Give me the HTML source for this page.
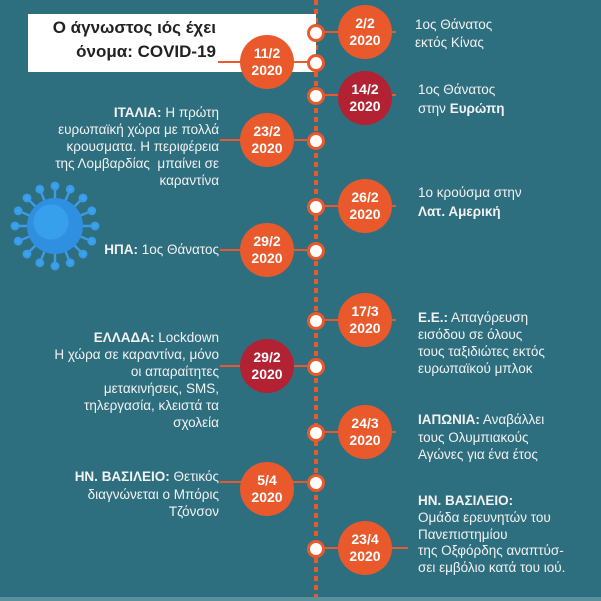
<!DOCTYPE html>
<html><head><meta charset="utf-8"><style>
body{margin:0;width:601px;height:601px;overflow:hidden;background:#2e6f7f;font-family:"Liberation Sans","DejaVu Sans",sans-serif;position:relative;color:#f2f2f2}
.a{position:absolute}
.t{position:absolute;font-size:13.5px;line-height:17px;white-space:nowrap}
.l{text-align:right}
.d{position:absolute;width:54px;height:54px;border-radius:50%;background:#e9592b;color:#fff;font-weight:bold;font-size:14px;line-height:17px;text-align:center;display:flex;align-items:center;justify-content:center}
.r{background:#b22232}
.dot{position:absolute;width:12px;height:12px;border-radius:50%;background:#fff;border:3px solid #e9592b;left:307px}
.ln{position:absolute;height:2px;background:#e9592b}
b{font-weight:bold}
</style></head><body>
<div class="a" style="left:314px;top:0;width:4px;height:597px;background:repeating-linear-gradient(#e9592b 0 5px,transparent 5px 9px)"></div>
<div class="a" style="left:0;top:597px;width:601px;height:4px;background:#5a8f9c"></div>
<div class="a" style="left:28px;top:14px;width:288px;height:58px;background:#fff"></div>
<div class="a" style="left:28px;top:16px;width:188px;text-align:right;color:#222;font-size:17px;font-weight:bold;line-height:24px">Ο άγνωστος ιός έχει<br>όνομα: COVID-19</div>
<svg class="a" style="left:7px;top:178px" width="96" height="96" viewBox="0 0 120 120">
<g stroke="#3a9be6" stroke-width="3" fill="#3aa3f0">
<line x1="60" y1="60" x2="60" y2="10"/><line x1="60" y1="60" x2="60" y2="110"/><line x1="60" y1="60" x2="10" y2="60"/><line x1="60" y1="60" x2="110" y2="60"/>
<line x1="60" y1="60" x2="25" y2="25"/><line x1="60" y1="60" x2="95" y2="95"/><line x1="60" y1="60" x2="95" y2="25"/><line x1="60" y1="60" x2="25" y2="95"/>
<line x1="60" y1="60" x2="41" y2="14"/><line x1="60" y1="60" x2="79" y2="106"/><line x1="60" y1="60" x2="79" y2="14"/><line x1="60" y1="60" x2="41" y2="106"/>
<line x1="60" y1="60" x2="14" y2="41"/><line x1="60" y1="60" x2="106" y2="79"/><line x1="60" y1="60" x2="14" y2="79"/><line x1="60" y1="60" x2="106" y2="41"/>
<circle cx="60" cy="10" r="4"/><circle cx="60" cy="110" r="4"/><circle cx="10" cy="60" r="4"/><circle cx="110" cy="60" r="4"/>
<circle cx="25" cy="25" r="4"/><circle cx="95" cy="95" r="4"/><circle cx="95" cy="25" r="4"/><circle cx="25" cy="95" r="4"/>
<circle cx="41" cy="14" r="4"/><circle cx="79" cy="106" r="4"/><circle cx="79" cy="14" r="4"/><circle cx="41" cy="106" r="4"/>
<circle cx="14" cy="41" r="4"/><circle cx="106" cy="79" r="4"/><circle cx="14" cy="79" r="4"/><circle cx="106" cy="41" r="4"/>
</g><circle cx="60" cy="60" r="35" fill="#2f8fe0"/><circle cx="55" cy="55" r="22" fill="#3aa6f2" opacity=".7"/></svg>

<div class="ln" style="left:316px;top:31px;width:80px"></div>
<div class="dot" style="top:24px"></div>
<div class="d" style="left:338px;top:5px">2/2<br>2020</div>
<div class="t" style="left:415px;top:16px;line-height:18px">1ος Θάνατος<br>εκτός Κίνας</div>

<div class="ln" style="left:218px;top:61px;width:96px"></div>
<div class="dot" style="top:54px"></div>
<div class="d" style="left:240px;top:35px">11/2<br>2020</div>

<div class="ln" style="left:316px;top:94px;width:80px"></div>
<div class="dot" style="top:87px"></div>
<div class="d r" style="left:338px;top:71px">14/2<br>2020</div>
<div class="t" style="left:418px;top:80px;line-height:19px">1ος Θάνατος<br>στην <b>Ευρώπη</b></div>

<div class="ln" style="left:220px;top:139px;width:96px"></div>
<div class="dot" style="top:132px"></div>
<div class="d" style="left:240px;top:113px">23/2<br>2020</div>
<div class="t l" style="right:382px;top:104px"><b>ΙΤΑΛΙΑ:</b> Η πρώτη<br>ευρωπαϊκή χώρα με πολλά<br>κρουσματα. Η περιφέρεια<br>της Λομβαρδίας &nbsp;μπαίνει σε<br>καραντίνα</div>

<div class="ln" style="left:316px;top:205px;width:80px"></div>
<div class="dot" style="top:198px"></div>
<div class="d" style="left:338px;top:179px">26/2<br>2020</div>
<div class="t" style="left:418px;top:183px;line-height:19px">1ο κρούσμα στην<br><b>Λατ. Αμερική</b></div>

<div class="ln" style="left:220px;top:249px;width:96px"></div>
<div class="dot" style="top:242px"></div>
<div class="d" style="left:240px;top:223px">29/2<br>2020</div>
<div class="t l" style="right:382px;top:241px"><b>ΗΠΑ:</b> 1ος Θάνατος</div>

<div class="ln" style="left:316px;top:319px;width:80px"></div>
<div class="dot" style="top:312px"></div>
<div class="d" style="left:338px;top:293px">17/3<br>2020</div>
<div class="t" style="left:418px;top:309px"><b>Ε.Ε.:</b> Απαγόρευση<br>εισόδου σε όλους<br>τους ταξιδιώτες εκτός<br>ευρωπαϊκού μπλοκ</div>

<div class="ln" style="left:220px;top:365px;width:96px"></div>
<div class="dot" style="top:358px"></div>
<div class="d r" style="left:240px;top:339px">29/2<br>2020</div>
<div class="t l" style="right:382px;top:329px"><b>ΕΛΛΑΔΑ:</b> Lockdown<br>Η χώρα σε καραντίνα, μόνο<br>οι απαραίτητες<br>μετακινήσεις, SMS,<br>τηλεργασία, κλειστά τα<br>σχολεία</div>

<div class="ln" style="left:316px;top:431px;width:80px"></div>
<div class="dot" style="top:424px"></div>
<div class="d" style="left:338px;top:405px">24/3<br>2020</div>
<div class="t" style="left:418px;top:411px;line-height:17.5px"><b>ΙΑΠΩΝΙΑ:</b> Αναβάλλει<br>τους Ολυμπιακούς<br>Αγώνες για ένα έτος</div>

<div class="ln" style="left:220px;top:481px;width:96px"></div>
<div class="dot" style="top:474px"></div>
<div class="d" style="left:240px;top:462px">5/4<br>2020</div>
<div class="t l" style="right:382px;top:468px;line-height:17.5px"><b>ΗΝ. ΒΑΣΙΛΕΙΟ:</b> Θετικός<br>διαγνώνεται ο Μπόρις<br>Τζόνσον</div>

<div class="ln" style="left:316px;top:547px;width:92px"></div>
<div class="dot" style="top:540px"></div>
<div class="d" style="left:338px;top:521px">23/4<br>2020</div>
<div class="t" style="left:418px;top:493px;line-height:16.8px"><b>ΗΝ. ΒΑΣΙΛΕΙΟ:</b><br>Ομάδα ερευνητών του<br>Πανεπιστημίου<br>της Οξφόρδης αναπτύσ-<br>σει εμβόλιο κατά του ιού.</div>
</body></html>
